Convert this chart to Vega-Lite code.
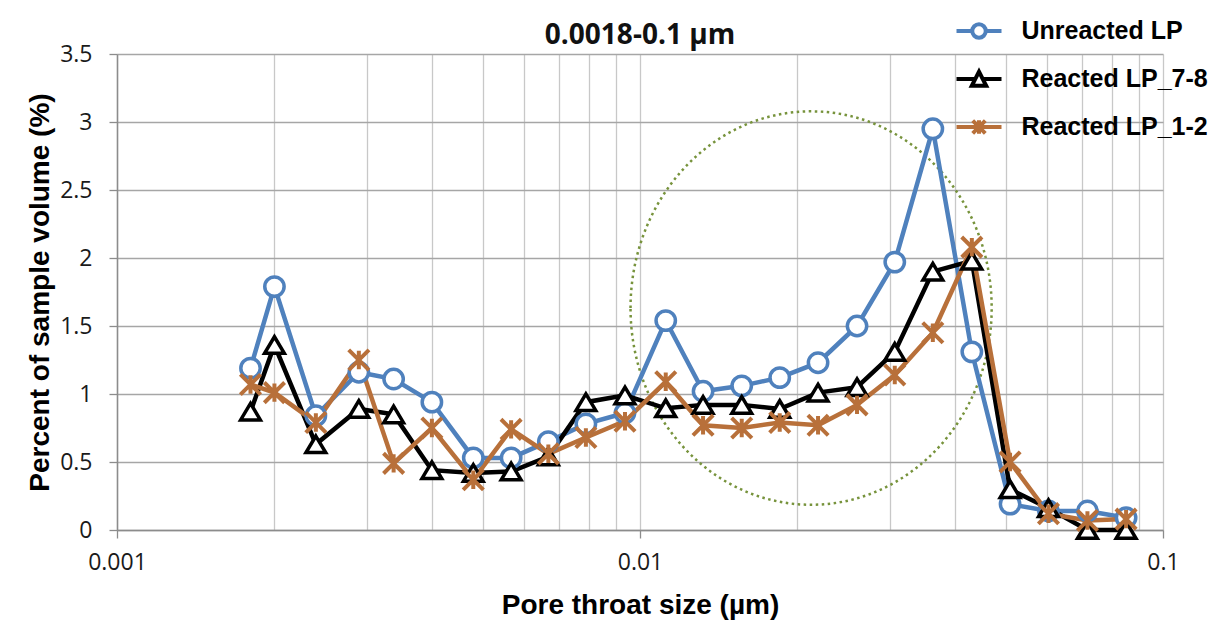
{
  "$schema": "https://vega.github.io/schema/vega-lite/v6.json",
  "width": 1046,
  "height": 476,
  "autosize": {"type": "none"},
  "padding": {"left": 117, "top": 54, "right": 62, "bottom": 96},
  "background": "white",
  "title": {"text": "0.0018-0.1 µm", "font": "Open Sans", "fontSize": 28, "fontWeight": "bold", "color": "#111111", "anchor": "middle", "baseline": "alphabetic", "offset": -65},
  "config": {"view": {"stroke": null}},
  "datasets": {
    "pts": [
      {"size": 0.0018, "series": "Unreacted LP", "pct": 1.19},
      {"size": 0.002, "series": "Unreacted LP", "pct": 1.79},
      {"size": 0.0024, "series": "Unreacted LP", "pct": 0.84},
      {"size": 0.0029, "series": "Unreacted LP", "pct": 1.16},
      {"size": 0.00338, "series": "Unreacted LP", "pct": 1.11},
      {"size": 0.004, "series": "Unreacted LP", "pct": 0.94},
      {"size": 0.0048, "series": "Unreacted LP", "pct": 0.53},
      {"size": 0.00567, "series": "Unreacted LP", "pct": 0.53},
      {"size": 0.00668, "series": "Unreacted LP", "pct": 0.65},
      {"size": 0.00788, "series": "Unreacted LP", "pct": 0.78},
      {"size": 0.00936, "series": "Unreacted LP", "pct": 0.86},
      {"size": 0.0112, "series": "Unreacted LP", "pct": 1.54},
      {"size": 0.0132, "series": "Unreacted LP", "pct": 1.02},
      {"size": 0.01565, "series": "Unreacted LP", "pct": 1.06},
      {"size": 0.0185, "series": "Unreacted LP", "pct": 1.12},
      {"size": 0.0219, "series": "Unreacted LP", "pct": 1.23},
      {"size": 0.026, "series": "Unreacted LP", "pct": 1.5},
      {"size": 0.0307, "series": "Unreacted LP", "pct": 1.97},
      {"size": 0.0363, "series": "Unreacted LP", "pct": 2.95},
      {"size": 0.0431, "series": "Unreacted LP", "pct": 1.31},
      {"size": 0.051, "series": "Unreacted LP", "pct": 0.19},
      {"size": 0.0604, "series": "Unreacted LP", "pct": 0.14},
      {"size": 0.0717, "series": "Unreacted LP", "pct": 0.14},
      {"size": 0.085, "series": "Unreacted LP", "pct": 0.09},
      {"size": 0.0018, "series": "Reacted LP_7-8", "pct": 0.87},
      {"size": 0.002, "series": "Reacted LP_7-8", "pct": 1.36},
      {"size": 0.0024, "series": "Reacted LP_7-8", "pct": 0.63},
      {"size": 0.0029, "series": "Reacted LP_7-8", "pct": 0.89},
      {"size": 0.00338, "series": "Reacted LP_7-8", "pct": 0.85},
      {"size": 0.004, "series": "Reacted LP_7-8", "pct": 0.44},
      {"size": 0.0048, "series": "Reacted LP_7-8", "pct": 0.42},
      {"size": 0.00567, "series": "Reacted LP_7-8", "pct": 0.43},
      {"size": 0.00668, "series": "Reacted LP_7-8", "pct": 0.54},
      {"size": 0.00788, "series": "Reacted LP_7-8", "pct": 0.94},
      {"size": 0.00936, "series": "Reacted LP_7-8", "pct": 0.99},
      {"size": 0.0112, "series": "Reacted LP_7-8", "pct": 0.895},
      {"size": 0.0132, "series": "Reacted LP_7-8", "pct": 0.92},
      {"size": 0.01565, "series": "Reacted LP_7-8", "pct": 0.92},
      {"size": 0.0185, "series": "Reacted LP_7-8", "pct": 0.89},
      {"size": 0.0219, "series": "Reacted LP_7-8", "pct": 1.01},
      {"size": 0.026, "series": "Reacted LP_7-8", "pct": 1.05},
      {"size": 0.0307, "series": "Reacted LP_7-8", "pct": 1.31},
      {"size": 0.0363, "series": "Reacted LP_7-8", "pct": 1.9},
      {"size": 0.0431, "series": "Reacted LP_7-8", "pct": 1.98},
      {"size": 0.051, "series": "Reacted LP_7-8", "pct": 0.3},
      {"size": 0.0604, "series": "Reacted LP_7-8", "pct": 0.16},
      {"size": 0.0717, "series": "Reacted LP_7-8", "pct": 0.0},
      {"size": 0.085, "series": "Reacted LP_7-8", "pct": 0.0},
      {"size": 0.0018, "series": "Reacted LP_1-2", "pct": 1.07},
      {"size": 0.002, "series": "Reacted LP_1-2", "pct": 1.01},
      {"size": 0.0024, "series": "Reacted LP_1-2", "pct": 0.79},
      {"size": 0.0029, "series": "Reacted LP_1-2", "pct": 1.25},
      {"size": 0.00338, "series": "Reacted LP_1-2", "pct": 0.49},
      {"size": 0.004, "series": "Reacted LP_1-2", "pct": 0.75},
      {"size": 0.0048, "series": "Reacted LP_1-2", "pct": 0.37},
      {"size": 0.00567, "series": "Reacted LP_1-2", "pct": 0.74},
      {"size": 0.00668, "series": "Reacted LP_1-2", "pct": 0.56},
      {"size": 0.00788, "series": "Reacted LP_1-2", "pct": 0.68},
      {"size": 0.00936, "series": "Reacted LP_1-2", "pct": 0.8},
      {"size": 0.0112, "series": "Reacted LP_1-2", "pct": 1.09},
      {"size": 0.0132, "series": "Reacted LP_1-2", "pct": 0.77},
      {"size": 0.01565, "series": "Reacted LP_1-2", "pct": 0.75},
      {"size": 0.0185, "series": "Reacted LP_1-2", "pct": 0.79},
      {"size": 0.0219, "series": "Reacted LP_1-2", "pct": 0.77},
      {"size": 0.026, "series": "Reacted LP_1-2", "pct": 0.92},
      {"size": 0.0307, "series": "Reacted LP_1-2", "pct": 1.14},
      {"size": 0.0363, "series": "Reacted LP_1-2", "pct": 1.45},
      {"size": 0.0431, "series": "Reacted LP_1-2", "pct": 2.08},
      {"size": 0.051, "series": "Reacted LP_1-2", "pct": 0.5},
      {"size": 0.0604, "series": "Reacted LP_1-2", "pct": 0.12},
      {"size": 0.0717, "series": "Reacted LP_1-2", "pct": 0.07},
      {"size": 0.085, "series": "Reacted LP_1-2", "pct": 0.08}
    ],
    "ring": [{"size": 0.02124, "pct": 1.632}]
  },
  "layer": [
    {
      "data": {"name": "ring"},
      "mark": {"type": "point", "shape": "M-0.918,0A0.918,1 0 1 1 0.918,0A0.918,1 0 1 1 -0.918,0Z", "size": 154764, "filled": false, "fill": "transparent", "stroke": "#77933C", "strokeWidth": 2.5, "strokeDash": [2.5, 3.5], "opacity": 1},
      "encoding": {
        "x": {"field": "size", "type": "quantitative"},
        "y": {"field": "pct", "type": "quantitative"}
      }
    },
    {
      "data": {"name": "pts"},
      "mark": {"type": "line", "strokeWidth": 4.5},
      "encoding": {
        "x": {
          "field": "size", "type": "quantitative",
          "scale": {"type": "log", "domain": [0.001, 0.1], "nice": false},
          "axis": {
            "values": [0.001, 0.002, 0.003, 0.004, 0.005, 0.006, 0.007, 0.008, 0.009, 0.01, 0.02, 0.03, 0.04, 0.05, 0.06, 0.07, 0.08, 0.09, 0.1],
            "grid": true, "gridColor": "#C8C8C8", "gridWidth": 1.3,
            "labelExpr": "indexof([0.001,0.01,0.1], datum.value) >= 0 ? '' + datum.value : ''",
            "tickOpacity": {"condition": {"test": "indexof([0.001,0.01,0.1], datum.value) >= 0", "value": 1}, "value": 0},
            "tickSize": 8, "tickColor": "#8C8C8C", "tickWidth": 1.3,
            "domainColor": "#8C8C8C", "domainWidth": 1.5,
            "labelFont": "Open Sans", "labelFontSize": 23, "labelColor": "#1a1a1a", "labelPadding": 13,
            "labelFlush": false, "labelOverlap": false,
            "title": "Pore throat size (µm)", "titleFont": "Liberation Sans", "titleFontSize": 28, "titleFontWeight": "bold", "titleColor": "#000000", "titlePadding": 17
          }
        },
        "y": {
          "field": "pct", "type": "quantitative",
          "scale": {"domain": [0, 3.5], "nice": false, "zero": true},
          "axis": {
            "values": [0, 0.5, 1, 1.5, 2, 2.5, 3, 3.5],
            "grid": true, "gridColor": "#A6A6A6", "gridWidth": 1.5,
            "labelExpr": "'' + datum.value",
            "tickSize": 8, "tickColor": "#8C8C8C", "tickWidth": 1.3,
            "domainColor": "#8C8C8C", "domainWidth": 1.5,
            "labelFont": "Open Sans", "labelFontSize": 23, "labelColor": "#1a1a1a", "labelPadding": 17,
            "labelOverlap": false,
            "title": "Percent of sample volume (%)", "titleFont": "Liberation Sans", "titleFontSize": 28, "titleFontWeight": "bold", "titleColor": "#000000", "titlePadding": 5
          }
        },
        "color": {
          "field": "series", "type": "nominal",
          "scale": {"domain": ["Unreacted LP", "Reacted LP_7-8", "Reacted LP_1-2"], "range": ["#4F81BD", "#000000", "#B8703A"]}
        }
      }
    },
    {
      "data": {"name": "pts"},
      "transform": [{"filter": "datum.series === 'Unreacted LP'"}],
      "mark": {"type": "point", "shape": "M-1.05,0A1.05,1.05 0 1 1 1.05,0A1.05,1.05 0 1 1 -1.05,0Z", "filled": false, "fill": "white", "strokeWidth": 3.5, "size": 340, "opacity": 1},
      "encoding": {
        "x": {"field": "size", "type": "quantitative"},
        "y": {"field": "pct", "type": "quantitative"},
        "color": {"field": "series", "type": "nominal"}
      }
    },
    {
      "data": {"name": "pts"},
      "transform": [{"filter": "datum.series === 'Reacted LP_7-8'"}],
      "mark": {"type": "point", "shape": "M0,-0.9L1.07,0.9L-1.07,0.9Z", "filled": false, "fill": "white", "strokeWidth": 3.5, "size": 340, "opacity": 1},
      "encoding": {
        "x": {"field": "size", "type": "quantitative"},
        "y": {"field": "pct", "type": "quantitative"},
        "color": {"field": "series", "type": "nominal"}
      }
    },
    {
      "data": {"name": "pts"},
      "transform": [{"filter": "datum.series === 'Reacted LP_1-2'"}],
      "mark": {"type": "point", "shape": "M-1.1,-1.1L1.1,1.1M-1.1,1.1L1.1,-1.1M0,-1L0,1", "filled": false, "fill": "transparent", "strokeWidth": 4, "size": 340, "opacity": 1},
      "encoding": {
        "x": {"field": "size", "type": "quantitative"},
        "y": {"field": "pct", "type": "quantitative"},
        "color": {"field": "series", "type": "nominal"}
      }
    },
    {
      "data": {"name": "pts"},
      "mark": {"type": "point", "filled": false, "fill": "white", "strokeWidth": 4, "size": 2025, "opacity": 0},
      "encoding": {
        "x": {"field": "size", "type": "quantitative"},
        "y": {"field": "pct", "type": "quantitative"},
        "color": {
          "field": "series", "type": "nominal",
          "legend": {
            "orient": "none", "legendX": 837.5, "legendY": -47.5, "title": null,
            "symbolSize": 2025, "symbolStrokeWidth": 4, "symbolOpacity": 1, "symbolFillColor": "white",
            "labelFont": "Liberation Sans", "labelFontWeight": "bold", "labelFontSize": 25, "labelColor": "#000000", "labelLimit": 400,
            "labelOffset": 18, "rowPadding": 8, "padding": 0
          }
        },
        "shape": {
          "field": "series", "type": "nominal",
          "scale": {"domain": ["Unreacted LP", "Reacted LP_7-8", "Reacted LP_1-2"], "range": ["M-1,0L-0.33,0M0.33,0L1,0M-0.3,0A0.3,0.3 0 1 1 0.3,0A0.3,0.3 0 1 1 -0.3,0Z", "M-1,0L-0.16,0M0.16,0L1,0M0,-0.33L0.32,0.3L-0.32,0.3Z", "M-1,0L1,0M-0.28,-0.28L0.28,0.28M-0.28,0.28L0.28,-0.28M0,-0.3L0,0.3"]},
          "legend": {
            "orient": "none", "legendX": 837.5, "legendY": -47.5, "title": null,
            "symbolSize": 2025, "symbolStrokeWidth": 4, "symbolOpacity": 1, "symbolFillColor": "white",
            "labelFont": "Liberation Sans", "labelFontWeight": "bold", "labelFontSize": 25, "labelColor": "#000000", "labelLimit": 400,
            "labelOffset": 18, "rowPadding": 8, "padding": 0
          }
        }
      }
    }
  ]
}
